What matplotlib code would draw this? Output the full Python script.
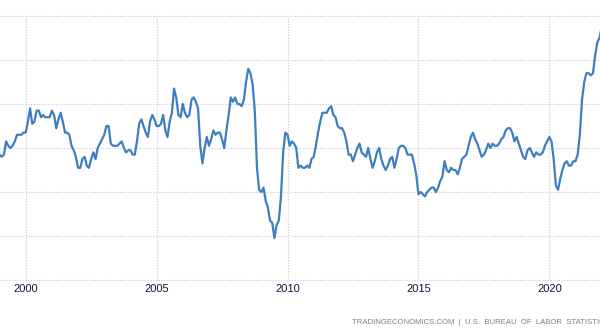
import numpy as np
import matplotlib.pyplot as plt

# US consumer prices, year-over-year change (%), monthly
start_year = 1999
cpi_yoy = [
    1.7, 1.6, 1.7, 2.3, 2.1, 2.0, 2.1, 2.3, 2.6, 2.6, 2.6, 2.7,   # 1999
    2.7, 3.2, 3.8, 3.1, 3.2, 3.7, 3.7, 3.4, 3.5, 3.4, 3.4, 3.4,   # 2000
    3.7, 3.5, 2.9, 3.3, 3.6, 3.2, 2.7, 2.7, 2.6, 2.1, 1.9, 1.6,   # 2001
    1.1, 1.1, 1.5, 1.6, 1.2, 1.1, 1.5, 1.8, 1.5, 2.0, 2.2, 2.4,   # 2002
    2.6, 3.0, 3.0, 2.2, 2.1, 2.1, 2.1, 2.2, 2.3, 2.0, 1.8, 1.9,   # 2003
    1.9, 1.7, 1.7, 2.3, 3.1, 3.3, 3.0, 2.7, 2.5, 3.2, 3.5, 3.3,   # 2004
    3.0, 3.0, 3.1, 3.5, 2.8, 2.5, 3.2, 3.6, 4.7, 4.3, 3.5, 3.4,   # 2005
    4.0, 3.6, 3.4, 3.5, 4.2, 4.3, 4.1, 3.8, 2.1, 1.3, 2.0, 2.5,   # 2006
    2.1, 2.4, 2.8, 2.6, 2.7, 2.7, 2.4, 2.0, 2.8, 3.5, 4.3, 4.1,   # 2007
    4.3, 4.0, 4.0, 3.9, 4.2, 5.0, 5.6, 5.4, 4.9, 3.7, 1.1, 0.1,   # 2008
    0.0, 0.2, -0.4, -0.7, -1.3, -1.4, -2.1, -1.5, -1.3, -0.2, 1.8, 2.7,  # 2009
    2.6, 2.1, 2.3, 2.2, 2.0, 1.1, 1.2, 1.1, 1.1, 1.2, 1.1, 1.5,   # 2010
    1.6, 2.1, 2.7, 3.2, 3.6, 3.6, 3.6, 3.8, 3.9, 3.5, 3.4, 3.0,   # 2011
    2.9, 2.9, 2.7, 2.3, 1.7, 1.7, 1.4, 1.7, 2.0, 2.2, 1.8, 1.7,   # 2012
    1.6, 2.0, 1.5, 1.1, 1.4, 1.8, 2.0, 1.5, 1.2, 1.0, 1.2, 1.5,   # 2013
    1.6, 1.1, 1.5, 2.0, 2.1, 2.1, 2.0, 1.7, 1.7, 1.7, 1.3, 0.8,   # 2014
    -0.1, 0.0, -0.1, -0.2, 0.0, 0.1, 0.2, 0.2, 0.0, 0.2, 0.5, 0.7,  # 2015
    1.4, 1.0, 0.9, 1.1, 1.0, 1.0, 0.8, 1.1, 1.5, 1.6, 1.7, 2.1,   # 2016
    2.5, 2.7, 2.4, 2.2, 1.9, 1.6, 1.7, 1.9, 2.2, 2.0, 2.2, 2.1,   # 2017
    2.1, 2.2, 2.4, 2.5, 2.8, 2.9, 2.9, 2.7, 2.3, 2.5, 2.2, 1.9,   # 2018
    1.6, 1.5, 1.9, 2.0, 1.8, 1.6, 1.8, 1.7, 1.7, 1.8, 2.1, 2.3,   # 2019
    2.5, 2.3, 1.5, 0.3, 0.1, 0.6, 1.0, 1.3, 1.4, 1.2, 1.2, 1.4,   # 2020
    1.4, 1.7, 2.6, 4.2, 5.0, 5.4, 5.4, 5.3, 5.4, 6.2, 6.8, 7.0,   # 2021
    7.5,                                                          # 2022
]
year_ticks = [2000, 2005, 2010, 2015, 2020]
y_grid = [-4, -2, 0, 2, 4, 6, 8]
source = "TRADINGECONOMICS.COM  |  U.S.  BUREAU  OF  LABOR  STATISTICS"

dates = start_year + np.arange(len(cpi_yoy)) / 12.0

fig = plt.figure(figsize=(6.0, 3.35), dpi=100)
ax = fig.add_axes([0.0, 55 / 335, 1.0, 264 / 335])

ax.plot(dates, cpi_yoy, color="#3f7fbf", lw=1.6,
        solid_joinstyle="round", solid_capstyle="round")

ax.set_xlim(1999.018, 2021.936)
ax.set_ylim(-4, 8)
ax.set_xticks(year_ticks)
ax.set_xticklabels([str(y) for y in year_ticks])
ax.set_yticks(y_grid)
ax.tick_params(axis="x", length=0, pad=3, labelsize=8, labelcolor="#14143a")
ax.tick_params(axis="y", length=0, labelleft=False)
for lab in ax.get_xticklabels():
    lab.set_fontfamily("Liberation Sans")

ax.grid(True, color="#c8c8c8", lw=0.8, linestyle=(0, (1, 1.5)))
ax.set_axisbelow(True)
for gl in ax.get_xgridlines() + ax.get_ygridlines():
    gl.set_clip_on(False)
for s in ax.spines.values():
    s.set_visible(False)

fig.text(352 / 600, 1 - 322 / 335, source, fontsize=5.6, color="#7f7f88",
         family="Liberation Sans", ha="left", va="center")

fig.savefig("out.png", dpi=100)
